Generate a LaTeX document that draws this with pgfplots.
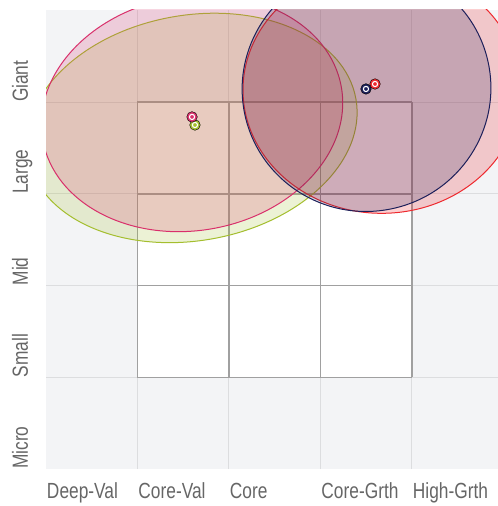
\documentclass[border=0pt]{standalone}
\usepackage{pgfplots}
\pgfplotsset{compat=1.18}
\usepackage{fontspec}
\setmainfont{Liberation Sans}[FakeStretch=0.79]
\definecolor{bggray}{HTML}{F3F4F6}
\definecolor{gridgray}{HTML}{DCDDDF}
\definecolor{boxgray}{HTML}{A0A0A0}
\definecolor{labelgray}{HTML}{666666}
\definecolor{cpink}{HTML}{D9306B}
\definecolor{cgreen}{HTML}{A4BE2E}
\definecolor{cred}{HTML}{EE2A2F}
\definecolor{cnavy}{HTML}{1C1F5A}
\begin{document}
\begin{tikzpicture}
\begin{axis}[
  scale only axis, width=452bp, height=459bp,
  xmin=0, xmax=4.94, ymin=0, ymax=5.005,
  axis line style={draw=none},
  major tick length=0pt,
  xtick={0,1,2,3,4}, xticklabels={Deep-Val,Core-Val,Core,Core-Grth,High-Grth},
  ytick={0,1,2,3,4}, yticklabels={Micro,Small,Mid,Large,Giant},
  tick label style={font=\fontsize{22}{22}\selectfont, text=labelgray, inner sep=0pt},
  xticklabel style={anchor=base west, xshift=0.8bp},
  yticklabel style={rotate=90, anchor=base west},
  xticklabel shift=29bp,
  yticklabel shift=18bp,
  axis background/.style={fill=bggray},
  clip=true,
]
% white inner box
\fill[white] (axis cs:1,1) rectangle (axis cs:4,4);
% outer grid lines
\foreach \v in {1,2,3,4} {
  \edef\tmp{\noexpand\draw[gridgray, line width=1bp] (axis cs:\v,0) -- (axis cs:\v,5.005);}\tmp
  \edef\tmp{\noexpand\draw[gridgray, line width=1bp] (axis cs:0,\v) -- (axis cs:4.94,\v);}\tmp
}
% inner box lines
\foreach \v in {1,2,3,4} {
  \edef\tmp{\noexpand\draw[boxgray, line width=1.4bp] (axis cs:\v,1) -- (axis cs:\v,4);}\tmp
  \edef\tmp{\noexpand\draw[boxgray, line width=1.4bp] (axis cs:1,\v) -- (axis cs:4,\v);}\tmp
}
% ownership zones
\draw[cgreen, line width=1bp, fill=cgreen, fill opacity=0.2, rotate around={10:(axis cs:1.596,3.719)}]
  (axis cs:1.596,3.719) ellipse [x radius=1.819, y radius=1.229];
\draw[cpink, line width=1bp, fill=cpink, fill opacity=0.2, rotate around={10:(axis cs:1.596,3.877)}]
  (axis cs:1.596,3.877) ellipse [x radius=1.657, y radius=1.276];
\draw[cred, line width=1bp, fill=cred, fill opacity=0.22]
  (axis cs:3.668,4.133) ellipse [x radius=1.515, y radius=1.345];
\draw[cnavy, line width=1bp, fill=cnavy, fill opacity=0.2, rotate around={12:(axis cs:3.503,4.149)}]
  (axis cs:3.503,4.149) ellipse [x radius=1.36, y radius=1.34];
% centroids
\addplot[only marks, mark=*, mark size=5.3bp, mark options={fill=cgreen, draw=none}] coordinates {(1.628,3.751)};
\addplot[only marks, mark=*, mark size=2.6bp, mark options={fill=cgreen, draw=white, line width=1.1bp}] coordinates {(1.628,3.751)};
\addplot[only marks, mark=*, mark size=5.3bp, mark options={fill=cpink, draw=none}] coordinates {(1.596,3.839)};
\addplot[only marks, mark=*, mark size=2.6bp, mark options={fill=cpink, draw=white, line width=1.1bp}] coordinates {(1.596,3.839)};
\addplot[only marks, mark=*, mark size=5.3bp, mark options={fill=cnavy, draw=none}] coordinates {(3.497,4.144)};
\addplot[only marks, mark=*, mark size=2.6bp, mark options={fill=cnavy, draw=white, line width=1.1bp}] coordinates {(3.497,4.144)};
\addplot[only marks, mark=*, mark size=5.3bp, mark options={fill=cred, draw=none}] coordinates {(3.596,4.198)};
\addplot[only marks, mark=*, mark size=2.6bp, mark options={fill=cred, draw=white, line width=1.1bp}] coordinates {(3.596,4.198)};
\end{axis}
\pgfresetboundingbox
\path[use as bounding box] ([xshift=-46bp,yshift=-37bp]current axis.south west) rectangle ([yshift=10bp]current axis.north east);
\end{tikzpicture}
\end{document}
